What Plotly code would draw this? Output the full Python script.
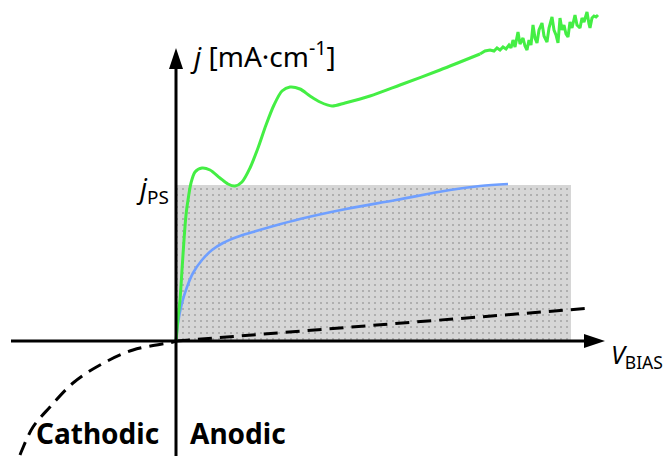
import plotly.graph_objects as go

# Schematic current-voltage behaviour (arbitrary units, origin at 0 V / 0 current)
green_v = [0, 1, 2, 4, 6, 8, 10, 12, 15, 19, 26, 34, 44, 52, 59, 66, 74, 82, 90, 98,
           106, 114, 124, 134, 144, 156, 169, 194, 224, 264, 304]
green_j = [0, 11, 23, 41, 71, 101, 126, 141, 158, 169, 173, 171, 163, 157, 155, 159,
           173, 193, 216, 236, 250, 254, 252, 245, 239, 235, 238, 245, 256, 271, 287]

# Noisy high-bias tail of the green curve
noise_v = [304, 309, 314, 318, 321, 324, 327, 330, 333, 335, 337, 339, 342, 344, 347,
           349, 351, 353, 355, 357, 359, 361, 363, 366, 368, 370, 371, 373, 376, 378,
           380, 382, 384, 386, 388, 390, 392, 394, 396, 399, 401, 404, 406, 408, 411,
           413, 414, 416, 418, 420, 422]
noise_j = [287, 290, 291, 290, 293, 291, 294, 292, 296, 293, 301, 294, 309, 297, 303,
           295, 291, 301, 296, 316, 303, 298, 311, 318, 305, 301, 299, 313, 324, 311,
           306, 298, 323, 311, 316, 307, 304, 319, 313, 326, 316, 313, 323, 319, 329,
           317, 313, 323, 325, 324, 326]

blue_v = [0, 2, 6, 11, 17, 26, 36, 47, 61, 77, 94, 124, 170, 220, 274, 304, 332]
blue_j = [0, 18, 38, 54, 68, 81, 91, 98, 104, 109, 114, 122, 132, 141, 151, 155, 157]

# Dark (dashed) current: cathodic branch and anodic branch
dark_cath_v = [-156, -154, -143, -126, -103, -76, -43, -3, 0]
dark_cath_j = [-114, -109, -86, -66, -42, -24, -9, -1, 0]
dark_anod_v = [0, 416]
dark_anod_j = [0, 33]

# Photocurrent-saturation window
j_ps = 156
v_window = 395

# Axis extents
x_min, x_tip = -165, 429
y_min, y_tip = -115, 293

fig = go.Figure()

fig.add_trace(go.Scatter(
    x=[0, v_window, v_window, 0, 0], y=[0, 0, j_ps, j_ps, 0],
    mode="lines", fill="toself", line=dict(width=0),
    fillcolor="#d6d6d6",
    fillpattern=dict(shape=".", bgcolor="#d6d6d6", fgcolor="#000000",
                     size=6, solidity=0.04),
    hoverinfo="skip", showlegend=False))

dash = "14px,8px"
fig.add_trace(go.Scatter(x=dark_cath_v, y=dark_cath_j, mode="lines",
                         line=dict(color="black", width=3, dash=dash, shape="spline"),
                         showlegend=False))
fig.add_trace(go.Scatter(x=dark_anod_v, y=dark_anod_j, mode="lines",
                         line=dict(color="black", width=3, dash=dash),
                         showlegend=False))

fig.add_trace(go.Scatter(x=blue_v, y=blue_j, mode="lines",
                         line=dict(color="#6f9fff", width=2.6, shape="spline", smoothing=1.0),
                         showlegend=False))
fig.add_trace(go.Scatter(x=green_v, y=green_j, mode="lines",
                         line=dict(color="#44ee44", width=3, shape="spline", smoothing=0.8),
                         showlegend=False))
fig.add_trace(go.Scatter(x=noise_v, y=noise_j, mode="lines",
                         line=dict(color="#44ee44", width=3),
                         showlegend=False))

# Axis lines with arrowheads
head_len, head_half = 21, 7
shapes = [
    dict(type="line", x0=x_min, y0=0, x1=x_tip - head_len + 2, y1=0,
         line=dict(color="black", width=3), layer="above"),
    dict(type="line", x0=0, y0=y_min, x1=0, y1=y_tip - head_len + 2,
         line=dict(color="black", width=3), layer="above"),
    dict(type="path",
         path=f"M {x_tip - head_len} {-head_half} L {x_tip} 0 L {x_tip - head_len} {head_half} Z",
         fillcolor="black", line=dict(width=0), layer="above"),
    dict(type="path",
         path=f"M {-head_half} {y_tip - head_len} L 0 {y_tip} L {head_half} {y_tip - head_len} Z",
         fillcolor="black", line=dict(width=0), layer="above"),
]

font = "Noto Sans"
annotations = [
    dict(x=12, y=264, text="<i>j</i> [mA·cm<sup>-1</sup>]", xanchor="left", yanchor="bottom",
         font=dict(size=28, color="black", family=font)),
    dict(x=-5, y=174, text="<i>j</i><sub>PS</sub>", xanchor="right", yanchor="top",
         font=dict(size=27, color="black", family=font)),
    dict(x=433, y=6, text="<i>V</i><sub>BIAS</sub>", xanchor="left", yanchor="top",
         font=dict(size=25, color="black", family=font)),
    dict(x=-15, y=-71, text="<b>Cathodic</b>", xanchor="right", yanchor="top",
         font=dict(size=28, color="black", family=font)),
    dict(x=12, y=-71, text="<b>Anodic</b>", xanchor="left", yanchor="top",
         font=dict(size=28, color="black", family=font)),
]
for a in annotations:
    a.update(xref="x", yref="y", showarrow=False)

fig.update_layout(
    width=667, height=456,
    margin=dict(l=0, r=0, t=0, b=0),
    paper_bgcolor="white", plot_bgcolor="white",
    xaxis=dict(range=[-176, 491], visible=False, fixedrange=True),
    yaxis=dict(range=[-115, 341], visible=False, fixedrange=True),
    shapes=shapes, annotations=annotations, showlegend=False,
)

fig.write_html("out.html")
